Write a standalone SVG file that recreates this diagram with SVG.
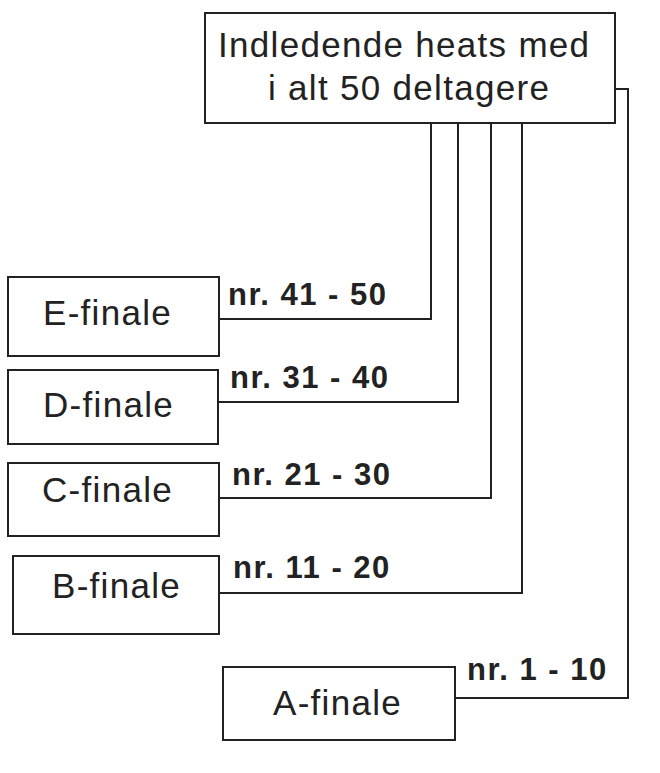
<svg xmlns="http://www.w3.org/2000/svg" width="660" height="773" viewBox="0 0 660 773">
<style>
.box{fill:#fff;stroke:#222;stroke-width:2}
.lbl{font-family:"Liberation Sans",Arial,sans-serif;font-size:35px;letter-spacing:1.3px;fill:#222}
.edge{fill:none;stroke:#222;stroke-width:2}
.elbl{font-family:"Liberation Sans",Arial,sans-serif;font-size:31px;font-weight:bold;letter-spacing:1.5px;fill:#222}
</style>
<rect width="660" height="773" fill="#fff"/>
<g id="connectors">
<polyline class="edge" points="615,89 628,89 628,698 455,698"/>
<polyline class="edge" points="431,123 431,319 219,319"/>
<polyline class="edge" points="458,123 458,402 218,402"/>
<polyline class="edge" points="491,123 491,498 219,498"/>
<polyline class="edge" points="522,123 522,593 219,593"/>
<text class="elbl" x="228" y="305">nr. 41 - 50</text>
<text class="elbl" x="230" y="388">nr. 31 - 40</text>
<text class="elbl" x="232" y="485">nr. 21 - 30</text>
<text class="elbl" x="233" y="578">nr. 11 - 20</text>
<text class="elbl" x="467" y="680">nr. 1 - 10</text>
</g>
<g id="heats">
<rect class="box" x="205" y="13" width="410" height="110"/>
<text class="lbl" x="218" y="57">Indledende heats med</text>
<text class="lbl" x="268" y="100">i alt 50 deltagere</text>
</g>
<g id="e-finale">
<rect class="box" x="8" y="277" width="211" height="79"/>
<text class="lbl" x="43" y="325">E-finale</text>
</g>
<g id="d-finale">
<rect class="box" x="8" y="370" width="210" height="74"/>
<text class="lbl" x="43" y="417">D-finale</text>
</g>
<g id="c-finale">
<rect class="box" x="8" y="463" width="211" height="73"/>
<text class="lbl" x="42" y="502">C-finale</text>
</g>
<g id="b-finale">
<rect class="box" x="13" y="556" width="206" height="78"/>
<text class="lbl" x="52" y="598">B-finale</text>
</g>
<g id="a-finale">
<rect class="box" x="223" y="667" width="232" height="73"/>
<text class="lbl" x="273" y="715">A-finale</text>
</g>
</svg>
